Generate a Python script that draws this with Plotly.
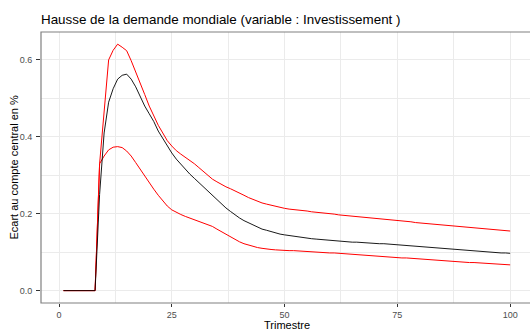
import plotly.graph_objects as go

trimestre = list(range(1, 101))

central = [0, 0, 0, 0, 0, 0, 0, 0,
           0.25, 0.41, 0.49, 0.525, 0.55, 0.56, 0.563, 0.55, 0.53, 0.505, 0.48, 0.46,
           0.44, 0.415, 0.395, 0.375, 0.358, 0.342, 0.328, 0.315, 0.303, 0.292,
           0.281, 0.27, 0.259, 0.248, 0.236, 0.225, 0.215, 0.206, 0.197, 0.189,
           0.182, 0.176, 0.17, 0.165, 0.16, 0.157, 0.153, 0.15, 0.147, 0.145,
           0.143, 0.141, 0.140, 0.138, 0.137, 0.135, 0.134, 0.133, 0.131, 0.130,
           0.129, 0.128, 0.127, 0.127, 0.126, 0.126, 0.125, 0.124, 0.124, 0.123,
           0.122, 0.122, 0.121, 0.120, 0.120, 0.119, 0.118, 0.117, 0.116, 0.115,
           0.114, 0.113, 0.112, 0.111, 0.110, 0.109, 0.108, 0.107, 0.106, 0.105,
           0.104, 0.103, 0.102, 0.101, 0.100, 0.100, 0.099, 0.098, 0.098, 0.097]

upper = [0, 0, 0, 0, 0, 0, 0, 0,
         0.33, 0.47, 0.60, 0.625, 0.641, 0.633, 0.624, 0.598, 0.57, 0.54, 0.51, 0.48,
         0.455, 0.43, 0.41, 0.39, 0.376, 0.364, 0.355, 0.347, 0.339, 0.33,
         0.32, 0.31, 0.299, 0.29, 0.283, 0.276, 0.27, 0.265, 0.26, 0.254,
         0.248, 0.242, 0.237, 0.232, 0.228, 0.225, 0.222, 0.219, 0.216, 0.214,
         0.212, 0.211, 0.210, 0.209, 0.207, 0.205, 0.204, 0.203, 0.202, 0.201,
         0.199, 0.197, 0.196, 0.195, 0.194, 0.193, 0.192, 0.190, 0.189, 0.188,
         0.187, 0.185, 0.184, 0.183, 0.182, 0.181, 0.180, 0.179, 0.177, 0.176,
         0.175, 0.174, 0.172, 0.171, 0.170, 0.169, 0.168, 0.167, 0.166, 0.165,
         0.164, 0.163, 0.162, 0.161, 0.160, 0.159, 0.158, 0.157, 0.156, 0.155]

lower = [0, 0, 0, 0, 0, 0, 0, 0,
         0.33, 0.35, 0.366, 0.373, 0.3745, 0.372, 0.363, 0.35, 0.333, 0.315, 0.298, 0.28,
         0.264, 0.248, 0.233, 0.22, 0.21, 0.203, 0.198, 0.193, 0.189, 0.185,
         0.18, 0.176, 0.172, 0.167, 0.16, 0.153, 0.146, 0.139, 0.133, 0.127,
         0.122, 0.118, 0.115, 0.112, 0.110, 0.108, 0.107, 0.106, 0.105, 0.105,
         0.104, 0.104, 0.103, 0.103, 0.102, 0.101, 0.100, 0.100, 0.099, 0.098,
         0.098, 0.097, 0.096, 0.095, 0.094, 0.093, 0.092, 0.091, 0.090, 0.089,
         0.088, 0.088, 0.087, 0.086, 0.086, 0.085, 0.085, 0.084, 0.083, 0.083,
         0.082, 0.081, 0.081, 0.080, 0.079, 0.078, 0.077, 0.076, 0.075, 0.074,
         0.073, 0.073, 0.072, 0.071, 0.070, 0.070, 0.069, 0.068, 0.068, 0.067]

x_ticks = [0, 25, 50, 75, 100]
y_ticks = [0.0, 0.2, 0.4, 0.6]
y_tick_labels = ["0.0", "0.2", "0.4", "0.6"]

FONT = "Liberation Sans, Arial, sans-serif"

fig = go.Figure()
fig.add_trace(go.Scatter(x=trimestre, y=upper, mode="lines",
                         line=dict(color="#FF0000", width=1), hoverinfo="skip"))
fig.add_trace(go.Scatter(x=trimestre, y=lower, mode="lines",
                         line=dict(color="#FF0000", width=1), hoverinfo="skip"))
fig.add_trace(go.Scatter(x=trimestre, y=central, mode="lines",
                         line=dict(color="#000000", width=0.9), hoverinfo="skip"))

grid = "#EBEBEB"
fig.update_layout(
    width=530, height=331,
    margin=dict(l=41, r=0, t=32, b=28),
    paper_bgcolor="white", plot_bgcolor="white",
    showlegend=False,
    font=dict(family=FONT, color="#000000"),
    title=dict(text="Hausse de la demande mondiale (variable : Investissement )",
               x=41 / 530, xanchor="left", y=1 - 19 / 331, yanchor="middle",
               font=dict(size=13.4, color="#000000", family=FONT)),
    xaxis=dict(range=[-3.99, 104.4], tickmode="array", tickvals=x_ticks,
               ticktext=[str(v) for v in x_ticks],
               showgrid=True, gridcolor=grid, gridwidth=1,
               minor=dict(tickmode="array", tickvals=[12.5, 37.5, 62.5, 87.5],
                          showgrid=True, gridcolor=grid, gridwidth=0.5, ticklen=0),
               ticks="outside", ticklen=3, tickcolor="#333333", tickwidth=1,
               tickfont=dict(size=9, color="#4D4D4D"),
               zeroline=False, showline=False),
    yaxis=dict(range=[-0.0322, 0.6726], tickmode="array", tickvals=y_ticks,
               ticktext=y_tick_labels,
               showgrid=True, gridcolor=grid, gridwidth=1,
               minor=dict(tickmode="array", tickvals=[0.1, 0.3, 0.5],
                          showgrid=True, gridcolor=grid, gridwidth=0.5, ticklen=0),
               ticks="outside", ticklen=4, tickcolor="#333333", tickwidth=1,
               ticklabelstandoff=2,
               tickfont=dict(size=9, color="#4D4D4D"),
               zeroline=False, showline=False),
)

# axis titles placed as annotations for exact positioning
fig.add_annotation(text="Trimestre", xref="paper", yref="paper",
                   x=(286.5 - 41) / 489, y=-(325 - 303) / 271,
                   xanchor="center", yanchor="middle", showarrow=False,
                   font=dict(size=11, color="#000000", family=FONT))
fig.add_annotation(text="Ecart au compte central en %", xref="paper", yref="paper",
                   x=-(41 - 13) / 489, y=0.5, textangle=-90,
                   xanchor="center", yanchor="middle", showarrow=False,
                   font=dict(size=11, color="#000000", family=FONT))

# panel border (extends past the right edge as in the reference)
fig.add_shape(type="rect", xref="paper", yref="paper", x0=0, x1=1.02, y0=0, y1=1,
              line=dict(color="#808080", width=1.2), fillcolor="rgba(0,0,0,0)", layer="above")

fig.write_html("out.html")
